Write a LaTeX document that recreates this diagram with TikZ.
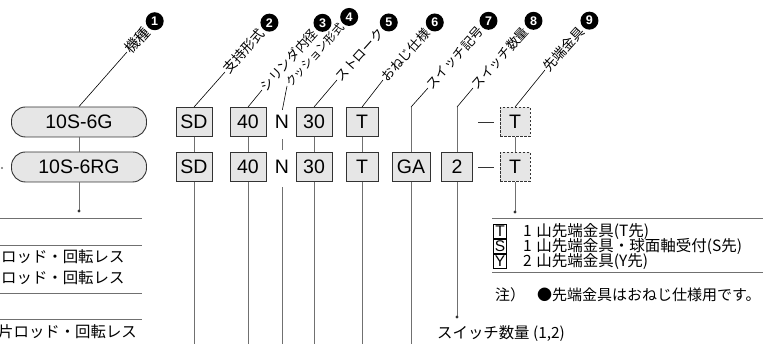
\documentclass[tikz,border=0pt]{standalone}
\usepackage{fontspec}
\setmainfont{Liberation Sans}
\newfontfamily\jp{Noto Sans CJK JP}
\usetikzlibrary{calc,positioning}
\definecolor{boxgray}{HTML}{E6E6E6}
\definecolor{edgegray}{HTML}{333333}
\definecolor{linegray}{HTML}{707070}

\tikzset{
	code/.style={draw=edgegray,fill=boxgray,line width=0.9pt,minimum width=31pt,
		minimum height=29pt,inner sep=0pt,font=\fontsize{19.5}{19.5}\selectfont},
	wide/.style={minimum width=36pt},
	pill/.style={code,rounded corners=14pt,minimum width=135pt,minimum height=30pt},
	optbox/.style={code,dash pattern=on 2.5pt off 1.5pt},
	lead/.style={line width=0.6pt},
	stem/.style={draw=linegray,line width=0.9pt},
	rule/.style={draw=linegray,line width=0.9pt},
	tag/.style={font=\jp\fontsize{13}{13}\selectfont,rotate=48,anchor=west,inner sep=1pt},
	numdot/.style={circle,fill=black,text=white,inner sep=0pt,minimum size=18pt,
		font=\bfseries\fontsize{12.5}{12.5}\selectfont},
	jtext/.style={font=\jp\fontsize{15.4}{15.4}\selectfont,inner sep=0pt},
	ttext/.style={font=\jp\fontsize{15.5}{15.5}\selectfont,inner sep=0pt},
	letterbox/.style={draw,line width=0.7pt,minimum size=13.5pt,inner sep=0pt,
		font=\fontsize{15.5}{15.5}\selectfont}
}

\begin{document}
\begin{tikzpicture}[x=1pt,y=-1pt]
	\useasboundingbox (0,0) rectangle (763,344);
	\clip (0,0) rectangle (763,344);

	% Code rows
	\node[pill] (type1) at (79,122) {10S-6G};
	\node[pill] (type2) at (79,167) {10S-6RG};
	\node[code,wide] (sd1) at (194,122) {SD};
	\node[code,wide] (sd2) at (194,167) {SD};
	\node[code,wide] (bore1) at (248,122) {40};
	\node[code,wide] (bore2) at (248,167) {40};
	\node[font=\fontsize{19.5}{19.5}\selectfont] (cush1) at (282,122) {N};
	\node[font=\fontsize{19.5}{19.5}\selectfont] (cush2) at (282,167) {N};
	\node[code,wide] (stroke1) at (314,122) {30};
	\node[code,wide] (stroke2) at (314,167) {30};
	\node[code,minimum width=32pt] (thread1) at (362,122) {T};
	\node[code,minimum width=32pt] (thread2) at (362,167) {T};
	\node[code,minimum width=38pt] (sw2) at (411,167) {GA};
	\node[code] (cnt2) at (457,167) {2};
	\node[optbox,minimum width=30pt] (tip1) at (515,122) {T};
	\node[optbox,minimum width=30pt] (tip2) at (515,167) {T};

	% Dashes before the rod end
	\draw[line width=0.8pt,edgegray] ([xshift=-6pt]tip1.west) -- ([xshift=-22pt]tip1.west);
	\draw[line width=0.8pt,edgegray] ([xshift=-6pt]tip2.west) -- ([xshift=-22pt]tip2.west);

	% Links between the rows
	\draw[stem] (type1) -- (type2);
	\draw[stem] (sd1) -- (sd2);
	\draw[stem] (bore1) -- (bore2);
	\draw[stem,shorten <=7pt,shorten >=7pt] (cush1) -- (cush2);
	\draw[stem] (stroke1) -- (stroke2);
	\draw[stem] (thread1) -- (thread2);
	\draw[stem] (tip1) -- (tip2);

	% Stems running down
	\coordinate (bot) at (0,346);
	\draw[stem] (sd2) -- (sd2 |- bot);
	\draw[stem] (bore2) -- (bore2 |- bot);
	\draw[stem,shorten <=10pt] (cush2) -- (cush2 |- bot);
	\draw[stem] (stroke2) -- (stroke2 |- bot);
	\draw[stem] (thread2) -- (thread2 |- bot);
	\draw[stem] (sw2) -- (sw2 |- bot);
	\coordinate (cntdot) at (457,317);
	\draw[stem] (cnt2) -- (cntdot);
	\fill[edgegray] (cntdot) circle[radius=1.6pt];
	\coordinate (typedot) at (79,211);
	\draw[stem] (type2) -- (typedot);
	\fill[edgegray] (typedot) circle[radius=1.6pt];
	\coordinate (tipdot) at (515,212);
	\draw[stem] (tip2) -- (tipdot);
	\fill[edgegray] (tipdot) circle[radius=1.6pt];
	\fill[linegray] (2,168) circle[radius=1.2pt];

	% Leaders and item labels
	\coordinate (k1) at (127,52);
	\coordinate (k2) at (225,72);
	\coordinate (k3) at (262,90);
	\coordinate (k4) at (287,86);
	\coordinate (k5) at (337,80);
	\coordinate (k6) at (383,80);
	\coordinate (k7) at (428,88);
	\coordinate (k8) at (473,88);
	\coordinate (k9) at (545,70);
	\draw[lead] (type1.north) -- (k1);
	\draw[lead] (sd1.north) -- (k2);
	\draw[lead] (bore1.north) -- (k3);
	\draw[lead,shorten <=2pt] (cush1.north) -- (k4);
	\draw[lead] (stroke1.north) -- (k5);
	\draw[lead] (thread1.north) -- (k6);
	\draw[stem] (sw2) -- (sw2 |- sd1.north);
	\draw[lead] (sw2 |- sd1.north) -- (k7);
	\draw[stem] (cnt2) -- (cnt2 |- sd1.north);
	\draw[lead] (cnt2 |- sd1.north) -- (k8);
	\draw[lead] (tip1.north) -- (k9);

	\node[tag,font=\jp\fontsize{14.5}{14.5}\selectfont] (tag1) at (k1) {機種};
	\node[tag,font=\jp\fontsize{13.5}{13.5}\selectfont] (tag2) at (k2) {支持形式};
	\node[tag] (tag3) at (k3) {シリンダ内径};
	\node[tag,font=\jp\fontsize{11.5}{11.5}\selectfont] (tag4) at (k4) {クッション形式};
	\node[tag] (tag5) at (k5) {ストローク};
	\node[tag] (tag6) at (k6) {おねじ仕様};
	\node[tag] (tag7) at (k7) {スイッチ記号};
	\node[tag] (tag8) at (k8) {スイッチ数量};
	\node[tag,font=\jp\fontsize{13.5}{13.5}\selectfont] (tag9) at (k9) {先端金具};
	\node[numdot] (mk1) at ($(tag1.east)!-10pt!(tag1.west)$) {1};
	\node[numdot] (mk2) at ($(tag2.east)!-10pt!(tag2.west)$) {2};
	\node[numdot] (mk3) at ($(tag3.east)!-10pt!(tag3.west)$) {3};
	\node[numdot] (mk4) at ($(tag4.east)!-10pt!(tag4.west)$) {4};
	\node[numdot] (mk5) at ($(tag5.east)!-10pt!(tag5.west)$) {5};
	\node[numdot] (mk6) at ($(tag6.east)!-10pt!(tag6.west)$) {6};
	\node[numdot] (mk7) at ($(tag7.east)!-10pt!(tag7.west)$) {7};
	\node[numdot] (mk8) at ($(tag8.east)!-10pt!(tag8.west)$) {8};
	\node[numdot] (mk9) at ($(tag9.east)!-10pt!(tag9.west)$) {9};

	% Left list (cut at the edge)
	\draw[rule] (0,218) -- (142,218);
	\draw[rule] (0,245) -- (142,245);
	\node[jtext,anchor=west] (rod1) at (1,257) {ロッド・回転レス};
	\node[jtext,anchor=west] (rod2) at (1,278) {ロッド・回転レス};
	\draw[rule] (0,293) -- (142,293);
	\draw[rule] (0,319) -- (142,319);
	\node[jtext,anchor=east] (rod3) at (137,332) {片ロッド・回転レス};

	% Rod end table
	\draw[rule] (492,218) -- (763,218);
	\node[letterbox] (endT) at (500,231.5) {T};
	\node[letterbox] (endS) at (500,246.5) {S};
	\node[letterbox] (endY) at (500,261.5) {Y};
	\node[ttext,anchor=west] (txtT) at (523,231.5) {1\hspace{0.3em}山先端金具(T先)};
	\node[ttext,anchor=west] (txtS) at (523,246.5) {1\hspace{0.3em}山先端金具・球面軸受付(S先)};
	\node[ttext,anchor=west] (txtY) at (523,261.5) {2\hspace{0.3em}山先端金具(Y先)};
	\draw[rule] (492,272) -- (763,272);
	\node[ttext,font=\jp\fontsize{15}{15}\selectfont,anchor=west] (note) at (495,295) {注）\hspace{0.8em}●先端金具はおねじ仕様用です。};

	\node[jtext,anchor=west] (qty) at (437,334) {スイッチ数量 (1,2)};
\end{tikzpicture}
\end{document}
